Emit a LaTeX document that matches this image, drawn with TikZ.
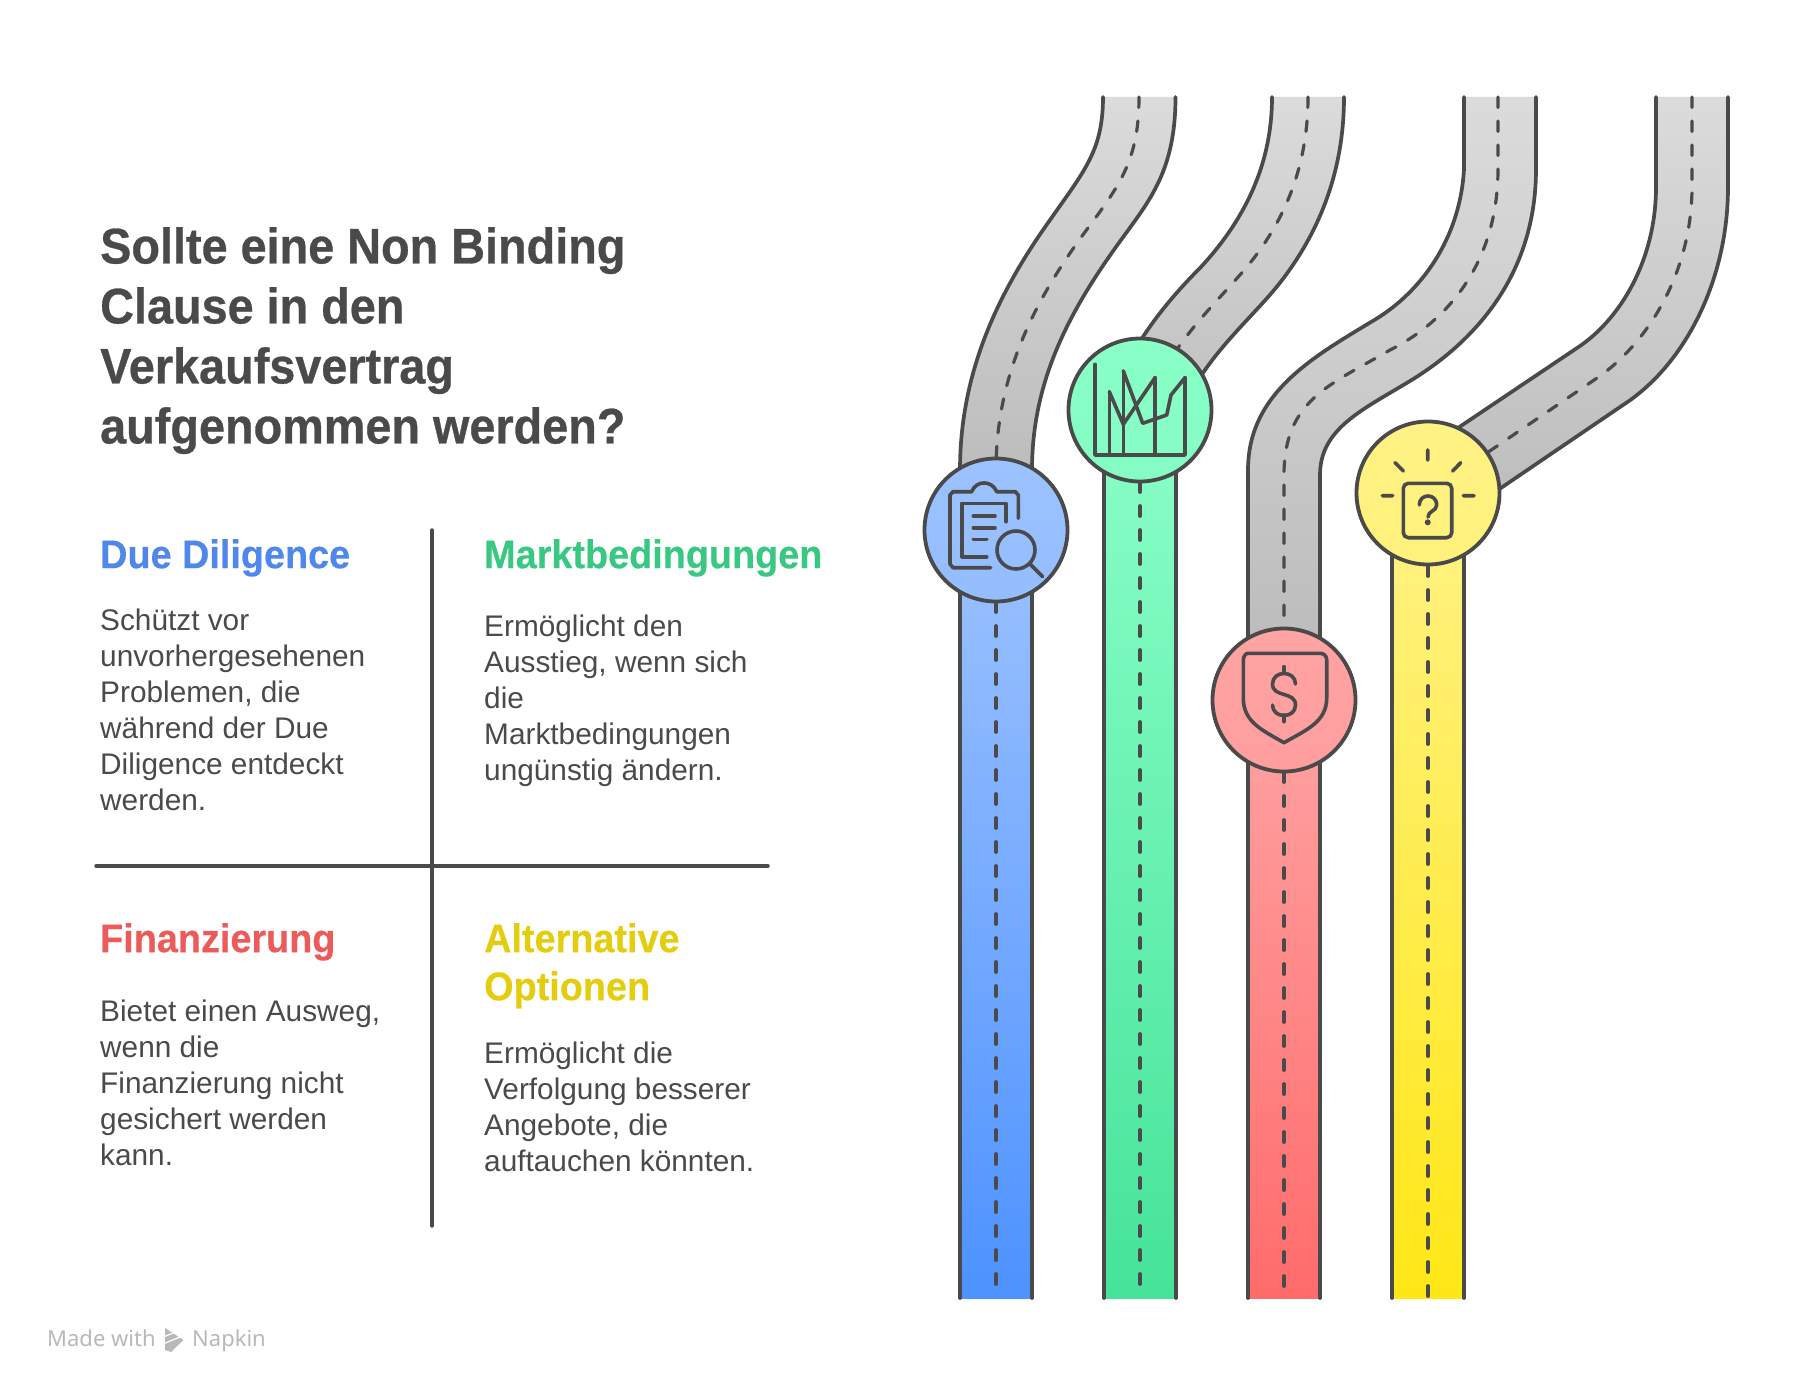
\documentclass[tikz,border=0pt]{standalone}
\usepackage{fontspec}
\usepackage{xcolor}
\setmainfont{Liberation Sans}
\newfontfamily\wmfont{Noto Sans}
\newfontfamily\titlefont[FakeStretch=0.936,FakeBold=0.6]{Liberation Sans}
\newfontfamily\headfont[FakeStretch=0.945,FakeBold=0.3]{Liberation Sans}
\definecolor{ink}{HTML}{4A4A4A}
\definecolor{bluetop}{HTML}{9CC2FF}
\definecolor{bluebot}{HTML}{4D92FF}
\definecolor{greentop}{HTML}{8AFFC8}
\definecolor{greenbot}{HTML}{46E39A}
\definecolor{redtop}{HTML}{FFA3A3}
\definecolor{redbot}{HTML}{FF6B6B}
\definecolor{yellowtop}{HTML}{FFF285}
\definecolor{yellowbot}{HTML}{FFE716}
\definecolor{bluehead}{HTML}{5087EB}
\definecolor{greenhead}{HTML}{38C882}
\definecolor{redhead}{HTML}{EC5A5A}
\definecolor{yellowhead}{HTML}{E4CC0F}
\tikzset{
    edgeline/.style={ink, line width=3.7pt, line cap=round},
    midline/.style={ink, line width=3.2pt, line cap=round, dash pattern=on 10.5pt off 13.5pt},
    iconline/.style={ink, line width=3.6pt, line cap=round, line join=round},
    roadfill/.style={top color=black!14, bottom color=black!26},
    badge/.style={circle, draw=ink, line width=3.8pt, minimum size=143pt, inner sep=0pt},
    titlenode/.style={anchor=north west, align=left, inner sep=0pt, font=\titlefont\fontsize{50}{60}\selectfont\bfseries, text=ink},
    headnode/.style={anchor=north west, align=left, inner sep=0pt, font=\headfont\fontsize{40}{48}\selectfont\bfseries},
    bodynode/.style={anchor=north west, align=left, inner sep=0pt, font=\fontsize{29.8}{36}\selectfont, text=ink},
}
\begin{document}
\begin{tikzpicture}[x=1pt,y=-1pt]
    \useasboundingbox (0,0) rectangle (1800,1394);

    % Left side: title and the four quadrants
    \node[titlenode] (title) at (100,227) {Sollte eine Non Binding\\Clause in den\\Verkaufsvertrag\\aufgenommen werden?};
    \draw[ink, line width=3.5pt, line cap=round] (432,530) -- (432,1226);
    \draw[ink, line width=3.5pt, line cap=round] (96,866) -- (768,866);

    \node[headnode, text=bluehead] (dueHead) at (100,539) {Due Diligence};
    \node[bodynode] (dueBody) at (100,609) {Schützt vor\\unvorhergesehenen\\Problemen, die\\während der Due\\Diligence entdeckt\\werden.};
    \node[headnode, text=greenhead] (marketHead) at (484,539) {Marktbedingungen};
    \node[bodynode] (marketBody) at (484,615) {Ermöglicht den\\Ausstieg, wenn sich\\die\\Marktbedingungen\\ungünstig ändern.};
    \node[headnode, text=redhead] (financeHead) at (100,923) {Finanzierung};
    \node[bodynode] (financeBody) at (100,1000) {Bietet einen Ausweg,\\wenn die\\Finanzierung nicht\\gesichert werden\\kann.};
    \node[headnode, text=yellowhead] (altHead) at (484,923) {Alternative\\Optionen};
    \node[bodynode] (altBody) at (484,1042) {Ermöglicht die\\Verfolgung besserer\\Angebote, die\\auftauchen könnten.};

    % Grey roads, drawn from the top down to the badge they run into
    \shade[roadfill] (1103,97) .. controls (1103,150) and (1085,170) .. (1050,220) .. controls (1000,290) and (960,370) .. (960,470) -- (1032,470) .. controls (1032,380) and (1070,310) .. (1121,240) .. controls (1150,200) and (1175.5,170) .. (1175.5,97) -- cycle;
    \draw[edgeline] (1103,97) .. controls (1103,150) and (1085,170) .. (1050,220) .. controls (1000,290) and (960,370) .. (960,470);
    \draw[edgeline] (1175.5,97) .. controls (1175.5,170) and (1150,200) .. (1121,240) .. controls (1070,310) and (1032,380) .. (1032,470);
    \draw[midline] (1139,97) .. controls (1139,160) and (1120,185) .. (1085,232) .. controls (1035,300) and (996,375) .. (996,470);

    \shade[roadfill] (1272,97) .. controls (1272,170) and (1240,225) .. (1200,268) .. controls (1170,298) and (1104,370) .. (1104,450) -- (1176,450) .. controls (1176,380) and (1245,327) .. (1279,284) .. controls (1320,232) and (1344,170) .. (1344,97) -- cycle;
    \draw[edgeline] (1272,97) .. controls (1272,170) and (1240,225) .. (1200,268) .. controls (1170,298) and (1104,370) .. (1104,450);
    \draw[edgeline] (1344,97) .. controls (1344,170) and (1320,232) .. (1279,284) .. controls (1245,327) and (1176,380) .. (1176,450);
    \draw[midline] (1308,97) .. controls (1308,170) and (1282,228) .. (1239,276) .. controls (1205,315) and (1140,375) .. (1140,450);

    \shade[roadfill] (1464,97) -- (1464,169) .. controls (1460,240) and (1420,292) .. (1376,319) .. controls (1315,356) and (1248,392) .. (1248,470) -- (1248,640) -- (1320,640) -- (1320,475) .. controls (1320,430) and (1360,411) .. (1405,384) .. controls (1480,340) and (1536,270) .. (1536,169) -- (1536,97) -- cycle;
    \draw[edgeline] (1464,97) -- (1464,169) .. controls (1460,240) and (1420,292) .. (1376,319) .. controls (1315,356) and (1248,392) .. (1248,470) -- (1248,640);
    \draw[edgeline] (1536,97) -- (1536,169) .. controls (1536,270) and (1480,340) .. (1405,384) .. controls (1360,411) and (1320,430) .. (1320,475) -- (1320,640);
    \draw[midline] (1498,97) -- (1498,169) .. controls (1498,260) and (1450,320) .. (1390,350) .. controls (1330,385) and (1284,400) .. (1284,475) -- (1284,640);

    \shade[roadfill] (1656,97) -- (1656,187) .. controls (1656,260) and (1620,320) .. (1577,348) -- (1440,440) -- (1470,509) -- (1623,405) .. controls (1685,365) and (1728,280) .. (1728,187) -- (1728,97) -- cycle;
    \draw[edgeline] (1656,97) -- (1656,187) .. controls (1656,260) and (1620,320) .. (1577,348) -- (1440,440);
    \draw[edgeline] (1728,97) -- (1728,187) .. controls (1728,280) and (1685,365) .. (1623,405) -- (1470,509);
    \draw[midline] (1692,97) -- (1692,187) .. controls (1692,270) and (1650,340) .. (1600,376) -- (1428,493);

    % Coloured lanes with their badges
    \foreach \x/\ytop/\tone/\y in {996/530/blue/553.75, 1140/410/green/433.75, 1284/700/red/723.75, 1428/493/yellow/517.75} {
        \shade[top color=\tone top, bottom color=\tone bot] (\x-36,\ytop) rectangle (\x+36,1298);
        \draw[edgeline] (\x-36,\ytop) -- (\x-36,1298);
        \draw[edgeline] (\x+36,\ytop) -- (\x+36,1298);
        \draw[midline] (\x,\y) -- (\x,1297);
        \node[badge, top color=\tone top, bottom color=\tone top!90!\tone bot] (badge\tone) at (\x,\ytop) {};
    }

    % Clipboard icon
    \draw[iconline] (1018.3,518.3) -- (1018.3,495) -- ++(-3,-3.3) -- (996.7,491.7) .. controls (992,480) and (976,480) .. (971.7,491.7) -- (953,491.7) -- ++(-3,3.3) -- (950,564) -- ++(3,3.7) -- (990.7,567.7);
    \draw[iconline] (1006,521.7) -- (1006,503.3) -- (961.7,503.3) -- (961.7,556.7) -- (986.7,556.7);
    \draw[iconline] (973.3,516) -- (995,516) (973.3,527.7) -- (995,527.7) (973.3,539.3) -- (986.7,539.3);
    \draw[iconline] (1016,550) circle (19pt);
    \draw[iconline] (1030,564) -- (1042.7,576.7);

    % Chart icon
    \draw[iconline] (1095,364.3) -- (1095,455) -- (1185,455) -- (1185,377.7);
    \draw[iconline] (1109.3,391.7) -- (1109.3,455) (1123.3,371) -- (1123.3,455) (1155,377.7) -- (1155,455);
    \draw[iconline] (1109.3,391.7) -- (1123.3,424.3) -- (1155,377.7);
    \draw[iconline] (1123.3,371) -- (1142.7,423.3) -- (1166.7,415) -- (1171,395) -- (1185,377.7);

    % Shield icon
    \draw[iconline] (1248,653.3) -- (1320,653.3) .. controls (1324,653.3) and (1326.7,656) .. (1326.7,660) -- (1326.7,698) .. controls (1326.7,722) and (1306,730) .. (1284,742.7) .. controls (1262,730) and (1243.3,722) .. (1243.3,698) -- (1243.3,660) .. controls (1243.3,656) and (1246,653.3) .. cycle;
    \draw[iconline] (1295.5,684) .. controls (1295.5,670) and (1272.5,670) .. (1272.5,684) .. controls (1272.5,698) and (1295.5,691) .. (1295.5,705) .. controls (1295.5,719) and (1272.5,719) .. (1272.5,705);
    \draw[iconline] (1284,666.7) -- (1284,673.3) (1284,715) -- (1284,721.7);

    % Question icon
    \draw[iconline, rounded corners=5pt] (1403.3,483.3) rectangle (1451.7,537.7);
    \draw[iconline] (1427.7,450) -- (1427.7,460) (1395,462.7) -- (1403.3,471) (1460.7,462.7) -- (1452.7,471) (1382.3,495.7) -- (1392.7,495.7) (1463.3,495.7) -- (1474,495.7);
    \draw[iconline] (1419.3,505) .. controls (1419.3,493) and (1436.7,493) .. (1436.7,505) .. controls (1436.7,511) and (1428,511) .. (1428,517);
    \fill[ink] (1427.7,522.3) circle (3pt);

    % Watermark
    \node[anchor=base west, inner sep=0pt, text=black!28, font=\wmfont\fontsize{22}{26}\selectfont] (madeWith) at (47,1346) {Made with};
    \node[anchor=base west, inner sep=0pt, text=black!28, font=\wmfont\fontsize{22}{26}\selectfont] (napkin) at (192,1346) {Napkin};
    \fill[black!28] (165,1328) -- (183.5,1340) -- (171,1352) -- (165,1350) -- cycle;
    \draw[white, line width=1.2pt] (163,1337) -- (176,1332) (163,1344) -- (180,1337);
\end{tikzpicture}
\end{document}
